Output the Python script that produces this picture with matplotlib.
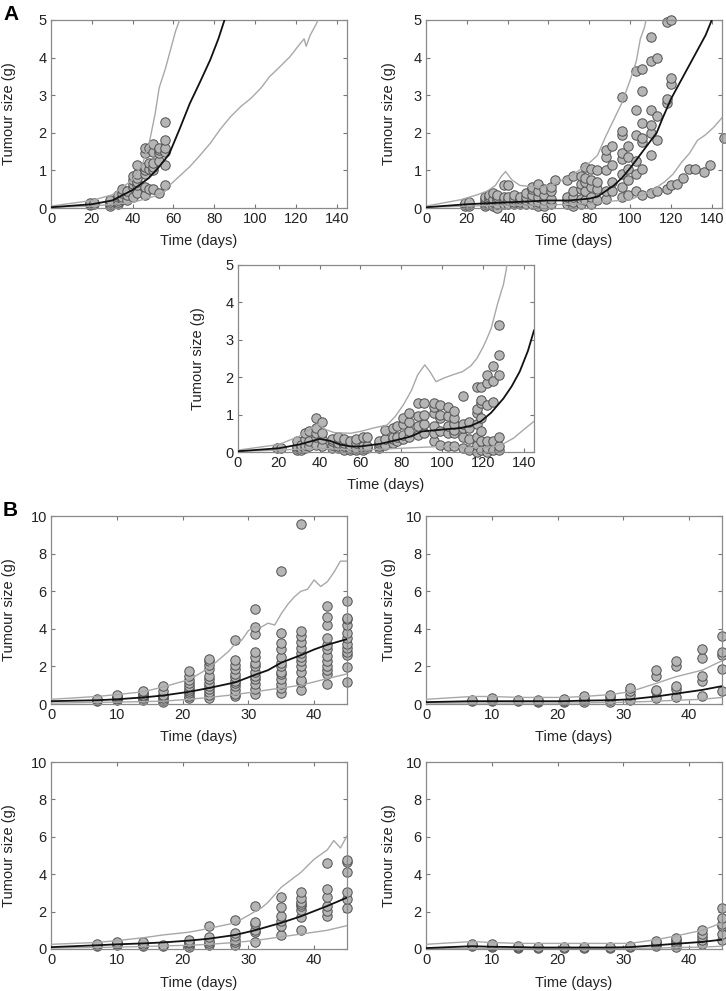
import matplotlib
matplotlib.use("Agg")
import matplotlib.pyplot as plt

plt.rcParams['font.family'] = ['Liberation Sans', 'DejaVu Sans']

# ---- panel A, top left ----
a1_t = [0, 20, 30, 40, 48, 53, 56, 58, 63, 68, 73, 78, 82, 85, 87]
a1_med = [0.02, 0.1, 0.2, 0.48, 0.8, 1.1, 1.3, 1.45, 2.1, 2.78, 3.35, 3.94, 4.5, 5.0, 5.3]
a1_hi_t = [0, 20, 30, 40, 45, 48, 51, 53, 56, 58, 61, 63, 65]
a1_hi = [0.05, 0.2, 0.35, 0.75, 1.2, 1.7, 2.5, 3.2, 3.7, 4.1, 4.7, 5.0, 5.3]
a1_lo_t = [0, 20, 40, 50, 56, 58, 63, 68, 73, 78, 83, 88, 93, 98, 103, 107, 112, 117, 121, 124, 125, 127, 130, 133]
a1_lo = [0.02, 0.05, 0.15, 0.3, 0.45, 0.6, 0.85, 1.1, 1.4, 1.72, 2.1, 2.43, 2.7, 2.92, 3.2, 3.49, 3.75, 4.02, 4.3, 4.5, 4.3, 4.6, 4.9, 5.3]
a1_days = [19, 21, 29, 33, 35, 37, 40, 42, 46, 48, 50, 53, 56]
a1_sizes = [[0.08, 0.1, 0.12], [0.1, 0.12], [0.05, 0.1, 0.15, 0.2],
            [0.1, 0.15, 0.2, 0.3, 0.35], [0.25, 0.3, 0.4, 0.5], [0.2, 0.35, 0.45],
            [0.3, 0.55, 0.65, 0.75, 0.85], [0.4, 0.6, 0.7, 0.8, 0.9, 1.15],
            [0.35, 0.55, 0.9, 1.0, 1.1, 1.45, 1.6], [0.5, 1.05, 1.2, 1.6],
            [0.5, 1.0, 1.1, 1.2, 1.5, 1.7], [0.4, 1.25, 1.45, 1.55, 1.6],
            [0.6, 1.15, 1.5, 1.6, 1.8, 2.3]]

# ---- panel A, top right ----
a2_t = [0, 20, 40, 60, 70, 80, 84, 88, 92, 96, 100, 104, 108, 113, 116, 120, 124, 127, 130, 133, 137, 140, 142]
a2_med = [0.02, 0.1, 0.15, 0.2, 0.2, 0.25, 0.3, 0.45, 0.6, 0.8, 1.06, 1.35, 1.64, 2.0, 2.4, 2.9, 3.3, 3.6, 3.9, 4.2, 4.6, 5.0, 5.3]
a2_hi_t = [0, 17, 25, 30, 34, 37, 39, 42, 46, 50, 56, 62, 67, 71, 75, 80, 84, 88, 92, 96, 100, 103, 105, 107, 109]
a2_hi = [0.05, 0.22, 0.35, 0.45, 0.6, 0.85, 0.97, 0.75, 0.6, 0.58, 0.55, 0.62, 0.75, 0.85, 1.0, 1.2, 1.4, 1.9, 2.35, 2.8, 3.4, 3.9, 4.5, 4.8, 5.3]
a2_lo_t = [0, 20, 40, 60, 80, 90, 100, 108, 113, 117, 121, 125, 129, 133, 137, 141, 145]
a2_lo = [0.02, 0.05, 0.08, 0.08, 0.12, 0.18, 0.22, 0.4, 0.55, 0.7, 0.9, 1.2, 1.45, 1.8, 1.95, 2.15, 2.4]
a2_days = [19, 21, 29, 31, 33, 35, 38, 40, 43, 46, 49, 52, 55, 58, 61, 63, 69, 72, 76, 78, 81, 84,
           88, 91, 96, 99, 103, 106, 110, 113, 118, 120, 123, 126, 129, 132, 136, 139, 146]
a2_sizes = [[0.05, 0.1, 0.12], [0.05, 0.1, 0.15], [0.05, 0.1, 0.15, 0.25, 0.3],
            [0.1, 0.2, 0.3, 0.35], [0.05, 0.15, 0.25, 0.4], [0.0, 0.1, 0.2, 0.3, 0.35],
            [0.1, 0.2, 0.3, 0.6], [0.1, 0.2, 0.3, 0.6], [0.1, 0.15, 0.25, 0.35],
            [0.1, 0.15, 0.25, 0.3], [0.1, 0.2, 0.3, 0.4], [0.1, 0.2, 0.35, 0.5, 0.55],
            [0.05, 0.15, 0.3, 0.45, 0.65], [0.05, 0.2, 0.35, 0.5], [0.1, 0.25, 0.45, 0.55],
            [0.75], [0.1, 0.2, 0.3, 0.75], [0.05, 0.15, 0.3, 0.45, 0.85],
            [0.1, 0.25, 0.5, 0.65, 0.85], [0.2, 0.45, 0.7, 0.8, 1.1],
            [0.1, 0.3, 0.55, 0.75, 1.05], [0.2, 0.5, 0.7, 1.0],
            [0.25, 0.45, 1.0, 1.35, 1.55], [0.45, 0.7, 1.15, 1.65],
            [0.3, 0.55, 0.9, 1.3, 1.45, 1.95, 2.05, 2.95], [0.35, 0.75, 1.05, 1.35, 1.65],
            [0.45, 0.9, 1.25, 1.95, 2.6, 3.65], [0.35, 1.05, 1.75, 1.85, 2.25, 3.1, 3.7],
            [0.4, 1.4, 2.0, 2.2, 2.6, 3.9, 4.55], [0.45, 1.8, 2.45, 4.0],
            [0.5, 2.8, 2.9, 4.95], [0.6, 3.3, 3.45, 5.0], [0.65], [0.8], [1.05], [1.05],
            [0.95], [1.15], [1.85]]

# ---- panel A, middle ----
a3_t = [0, 20, 30, 40, 45, 50, 55, 60, 70, 80, 85, 90, 100, 109, 114, 119, 124, 130, 134, 138, 142, 145]
a3_med = [0.02, 0.1, 0.2, 0.35, 0.3, 0.2, 0.15, 0.15, 0.22, 0.35, 0.42, 0.55, 0.6, 0.64, 0.7, 0.82, 1.05, 1.43, 1.75, 2.15, 2.7, 3.25]
a3_hi_t = [0, 20, 30, 35, 39, 43, 47, 55, 60, 67, 73, 77, 81, 85, 88, 91.5, 94, 97, 101, 105, 110, 114, 117, 120, 122, 124, 127, 129, 130, 131.5, 132]
a3_hi = [0.05, 0.2, 0.42, 0.6, 0.75, 0.6, 0.52, 0.5, 0.55, 0.65, 0.72, 0.95, 1.26, 1.65, 2.06, 2.33, 2.15, 1.88, 1.98, 2.06, 2.15, 2.3, 2.5, 2.8, 3.04, 3.3, 3.93, 4.3, 4.47, 4.9, 5.3]
a3_lo_t = [0, 20, 40, 60, 80, 100, 110, 120, 125, 130, 135, 140, 145]
a3_lo = [0.02, 0.05, 0.1, 0.05, 0.1, 0.15, 0.12, 0.12, 0.14, 0.22, 0.37, 0.6, 0.82]
a3_days = [19, 21, 29, 31, 33, 35, 38, 41, 46, 49, 52, 55, 58, 61, 63, 69, 72, 76, 78, 81, 84,
           88, 91, 96, 99, 103, 106, 110, 113, 117, 119, 122, 125, 128]
a3_sizes = [[0.1], [0.1], [0.05, 0.1, 0.15, 0.3], [0.05, 0.1, 0.2], [0.1, 0.2, 0.35, 0.5],
            [0.15, 0.3, 0.55], [0.2, 0.4, 0.5, 0.65, 0.9], [0.15, 0.35, 0.5, 0.8],
            [0.1, 0.2, 0.3, 0.35], [0.1, 0.15, 0.25, 0.4], [0.05, 0.15, 0.25, 0.35],
            [0.05, 0.1, 0.2, 0.3], [0.05, 0.1, 0.25, 0.35], [0.05, 0.1, 0.15, 0.4],
            [0.1, 0.15, 0.4], [0.1, 0.15, 0.25, 0.3], [0.2, 0.35, 0.6],
            [0.25, 0.35, 0.4, 0.65], [0.3, 0.4, 0.7], [0.35, 0.45, 0.75, 0.9],
            [0.4, 0.55, 0.8, 1.05], [0.45, 0.7, 0.95, 1.3], [0.5, 0.75, 1.0, 1.3],
            [0.3, 0.5, 0.7, 1.05, 1.2, 1.3], [0.2, 0.55, 0.9, 1.0, 1.25],
            [0.15, 0.5, 0.7, 0.95, 1.2], [0.15, 0.5, 0.6, 0.75, 0.9, 1.1],
            [0.1, 0.4, 0.65, 0.75, 1.5], [0.05, 0.35, 0.65, 0.8],
            [0.0, 0.2, 0.4, 0.75, 1.05, 1.15, 1.75], [0.05, 0.3, 0.55, 0.9, 1.3, 1.4, 1.75],
            [0.0, 0.1, 0.3, 1.25, 1.85, 2.05], [0.05, 0.3, 1.35, 1.9, 2.3],
            [0.05, 0.15, 0.4, 2.05, 2.6, 3.4]]

# ---- panel B ----
b_days = [7, 10, 14, 17, 21, 24, 28, 31, 35, 38, 42, 45]

b1_t = [0, 7, 10, 14, 17, 21, 24, 28, 31, 33, 35, 38, 40, 42, 45]
b1_med = [0.15, 0.2, 0.25, 0.35, 0.45, 0.65, 0.85, 1.15, 1.55, 1.8, 2.2, 2.6, 2.9, 3.15, 3.45]
b1_hi_t = [0, 7, 10, 14, 17, 21, 23, 25, 27, 28, 29, 30, 31, 32, 33, 34, 35, 36, 37, 38, 39, 40, 41, 42, 43, 44, 45]
b1_hi = [0.25, 0.4, 0.5, 0.65, 0.9, 1.3, 1.7, 2.2, 2.8, 3.2, 3.4, 3.9, 4.1, 4.1, 4.3, 4.2, 4.8, 5.3, 5.7, 6.0, 6.1, 6.6, 6.25, 6.5, 7.0, 7.6, 7.6]
b1_lo_t = [0, 10, 17, 21, 24, 28, 31, 35, 38, 42, 45]
b1_lo = [0.05, 0.1, 0.15, 0.25, 0.35, 0.5, 0.65, 0.85, 1.0, 1.35, 1.6]
b1_sizes = [[0.15, 0.2, 0.25], [0.2, 0.25, 0.3, 0.35, 0.45, 0.5],
            [0.2, 0.3, 0.4, 0.5, 0.6, 0.7], [0.1, 0.2, 0.3, 0.4, 0.5, 0.7, 0.95],
            [0.3, 0.45, 0.6, 0.7, 0.8, 0.95, 1.1, 1.3, 1.5, 1.75],
            [0.3, 0.5, 0.65, 0.8, 0.95, 1.1, 1.35, 1.5, 1.85, 2.1, 2.3, 2.4],
            [0.4, 0.55, 0.75, 0.95, 1.1, 1.25, 1.45, 1.6, 1.85, 2.1, 2.35, 3.4],
            [0.55, 0.8, 1.05, 1.35, 1.5, 1.7, 2.0, 2.2, 2.5, 2.75, 3.75, 4.1, 5.05],
            [0.6, 0.85, 1.05, 1.35, 1.6, 1.7, 2.0, 2.2, 2.5, 2.9, 3.25, 3.8, 7.1],
            [0.75, 1.15, 1.3, 1.7, 2.0, 2.3, 2.5, 2.7, 3.0, 3.3, 3.6, 3.9, 9.55],
            [1.05, 1.6, 1.8, 2.0, 2.3, 2.55, 2.9, 3.15, 3.5, 4.2, 4.65, 5.2],
            [1.15, 1.95, 2.6, 2.75, 3.0, 3.2, 3.5, 3.8, 4.2, 4.5, 4.6, 5.5]]

b2_t = [0, 7, 10, 14, 17, 21, 24, 28, 31, 35, 38, 42, 45]
b2_med = [0.1, 0.15, 0.15, 0.15, 0.15, 0.15, 0.18, 0.2, 0.25, 0.4, 0.55, 0.75, 0.95]
b2_hi = [0.25, 0.4, 0.4, 0.35, 0.35, 0.35, 0.4, 0.5, 0.65, 1.1, 1.45, 1.8, 2.3]
b2_lo = [0.05, 0.05, 0.05, 0.05, 0.05, 0.05, 0.06, 0.08, 0.1, 0.15, 0.2, 0.25, 0.35]
b2_sizes = [[0.15, 0.2], [0.15, 0.2, 0.25, 0.3], [0.15, 0.2], [0.1, 0.15, 0.2],
            [0.1, 0.15, 0.2, 0.25], [0.1, 0.2, 0.3, 0.4], [0.1, 0.2, 0.35, 0.5],
            [0.2, 0.5, 0.7, 0.85], [0.3, 0.7, 0.75, 1.5, 1.8], [0.35, 0.8, 0.95, 2.0, 2.3],
            [0.4, 1.2, 1.5, 2.45, 2.9], [0.7, 1.85, 2.6, 2.75, 3.6]]

b3_t = [0, 7, 10, 14, 17, 21, 24, 28, 31, 35, 38, 42, 45]
b3_med = [0.1, 0.2, 0.25, 0.3, 0.35, 0.45, 0.55, 0.75, 1.0, 1.4, 1.75, 2.3, 2.75]
b3_hi_t = [0, 7, 10, 14, 17, 21, 24, 28, 30, 32, 33, 35, 38, 40, 42, 43, 44, 45]
b3_hi = [0.25, 0.35, 0.45, 0.6, 0.75, 0.9, 1.1, 1.4, 1.8, 2.2, 2.5, 3.3, 4.1, 4.8, 5.3, 5.8, 5.4, 6.05]
b3_lo_t = [0, 10, 21, 24, 28, 31, 35, 38, 42, 45]
b3_lo = [0.05, 0.1, 0.2, 0.25, 0.35, 0.45, 0.65, 0.8, 1.0, 1.25]
b3_sizes = [[0.15, 0.2, 0.25], [0.2, 0.25, 0.3, 0.35], [0.15, 0.2, 0.25, 0.35], [0.15, 0.2],
            [0.1, 0.2, 0.3, 0.4, 0.5], [0.2, 0.3, 0.45, 0.65, 1.25],
            [0.2, 0.35, 0.5, 0.7, 0.85, 1.55], [0.4, 0.9, 1.0, 1.35, 1.45, 2.3],
            [0.75, 1.25, 1.5, 1.75, 2.25, 2.8], [1.0, 1.7, 2.1, 2.3, 2.4, 2.5, 2.75, 3.05],
            [1.75, 2.05, 2.3, 2.8, 3.2, 4.6], [2.2, 2.7, 3.05, 4.1, 4.65, 4.75]]

b4_t = [0, 7, 10, 14, 17, 21, 24, 28, 31, 35, 38, 42, 45]
b4_med = [0.05, 0.15, 0.12, 0.1, 0.08, 0.08, 0.08, 0.08, 0.1, 0.2, 0.28, 0.38, 0.5]
b4_hi = [0.25, 0.4, 0.35, 0.3, 0.3, 0.3, 0.3, 0.3, 0.3, 0.5, 0.7, 1.0, 1.4]
b4_lo = [0.02, 0.03, 0.03, 0.03, 0.03, 0.03, 0.03, 0.03, 0.03, 0.05, 0.08, 0.1, 0.15]
b4_sizes = [[0.15, 0.2, 0.25], [0.1, 0.15, 0.2, 0.25], [0.05, 0.1, 0.15], [0.05, 0.1],
            [0.05, 0.1], [0.05, 0.1], [0.05, 0.1], [0.1, 0.15],
            [0.15, 0.25, 0.35, 0.45], [0.1, 0.25, 0.35, 0.5, 0.6],
            [0.25, 0.5, 0.65, 0.8, 1.0], [0.5, 0.8, 1.25, 1.35, 1.65, 2.2]]

W, H = 726, 991
fig = plt.figure(figsize=(W / 100, H / 100), dpi=100)


def panel(px, ylab_x, days, sizes, t_med, med, t_hi, hi, t_lo, lo, xmax, ymax, xstep, ystep):
    l, t, w, h = px
    ax = fig.add_axes([l / W, 1 - (t + h) / H, w / W, h / H])
    xs = [d for d, vals in zip(days, sizes) for _ in vals]
    ys = [v for vals in sizes for v in vals]
    ax.scatter(xs, ys, s=46, facecolor='#b5b5b5', edgecolor='#505050', linewidth=0.7, zorder=2, clip_on=False)
    ax.plot(t_hi, hi, color='#a8a8a8', lw=1.0, zorder=3)
    ax.plot(t_lo, lo, color='#a8a8a8', lw=1.0, zorder=3)
    ax.plot(t_med, med, color='#111111', lw=1.3, zorder=4)
    ax.set_xlim(0, xmax)
    ax.set_ylim(0, ymax)
    ax.set_xticks(range(0, xmax, xstep))
    ax.set_yticks(range(0, ymax + 1, ystep))
    ax.tick_params(direction='in', length=3, top=True, right=True, labelsize=10.5,
                   color='#777777', labelcolor='#222222', pad=3)
    for s in ax.spines.values():
        s.set_color('#8a8a8a')
        s.set_linewidth(0.9)
    ax.set_xlabel('Time (days)', fontsize=10.5, color='#222222', labelpad=6)
    ax.set_ylabel('Tumour size (g)', fontsize=10.5, color='#222222')
    # MATLAB-style fixed label position, independent of tick label width
    ax.yaxis.set_label_coords((ylab_x - l) / w, 0.5)
    return ax


panel((51, 20, 296, 188), 16, a1_days, a1_sizes, a1_t, a1_med, a1_hi_t, a1_hi, a1_lo_t, a1_lo, 145, 5, 20, 1)
panel((426, 20, 296, 188), 396, a2_days, a2_sizes, a2_t, a2_med, a2_hi_t, a2_hi, a2_lo_t, a2_lo, 145, 5, 20, 1)
panel((238, 265, 296, 187), 205, a3_days, a3_sizes, a3_t, a3_med, a3_hi_t, a3_hi, a3_lo_t, a3_lo, 145, 5, 20, 1)
panel((51, 516, 296, 188), 16, b_days, b1_sizes, b1_t, b1_med, b1_hi_t, b1_hi, b1_lo_t, b1_lo, 45, 10, 10, 2)
panel((426, 516, 296, 188), 396, b_days, b2_sizes, b2_t, b2_med, b2_t, b2_hi, b2_t, b2_lo, 45, 10, 10, 2)
panel((51, 762, 296, 187), 16, b_days, b3_sizes, b3_t, b3_med, b3_hi_t, b3_hi, b3_lo_t, b3_lo, 45, 10, 10, 2)
panel((426, 762, 296, 187), 396, b_days, b4_sizes, b4_t, b4_med, b4_t, b4_hi, b4_t, b4_lo, 45, 10, 10, 2)

fig.text(3 / W, 1 - 14 / H, 'A', fontsize=15, fontweight='bold', va='center', ha='left')
fig.text(3 / W, 1 - 511 / H, 'B', fontsize=15, fontweight='bold', va='center', ha='left')

fig.savefig('out.png', dpi=100)
